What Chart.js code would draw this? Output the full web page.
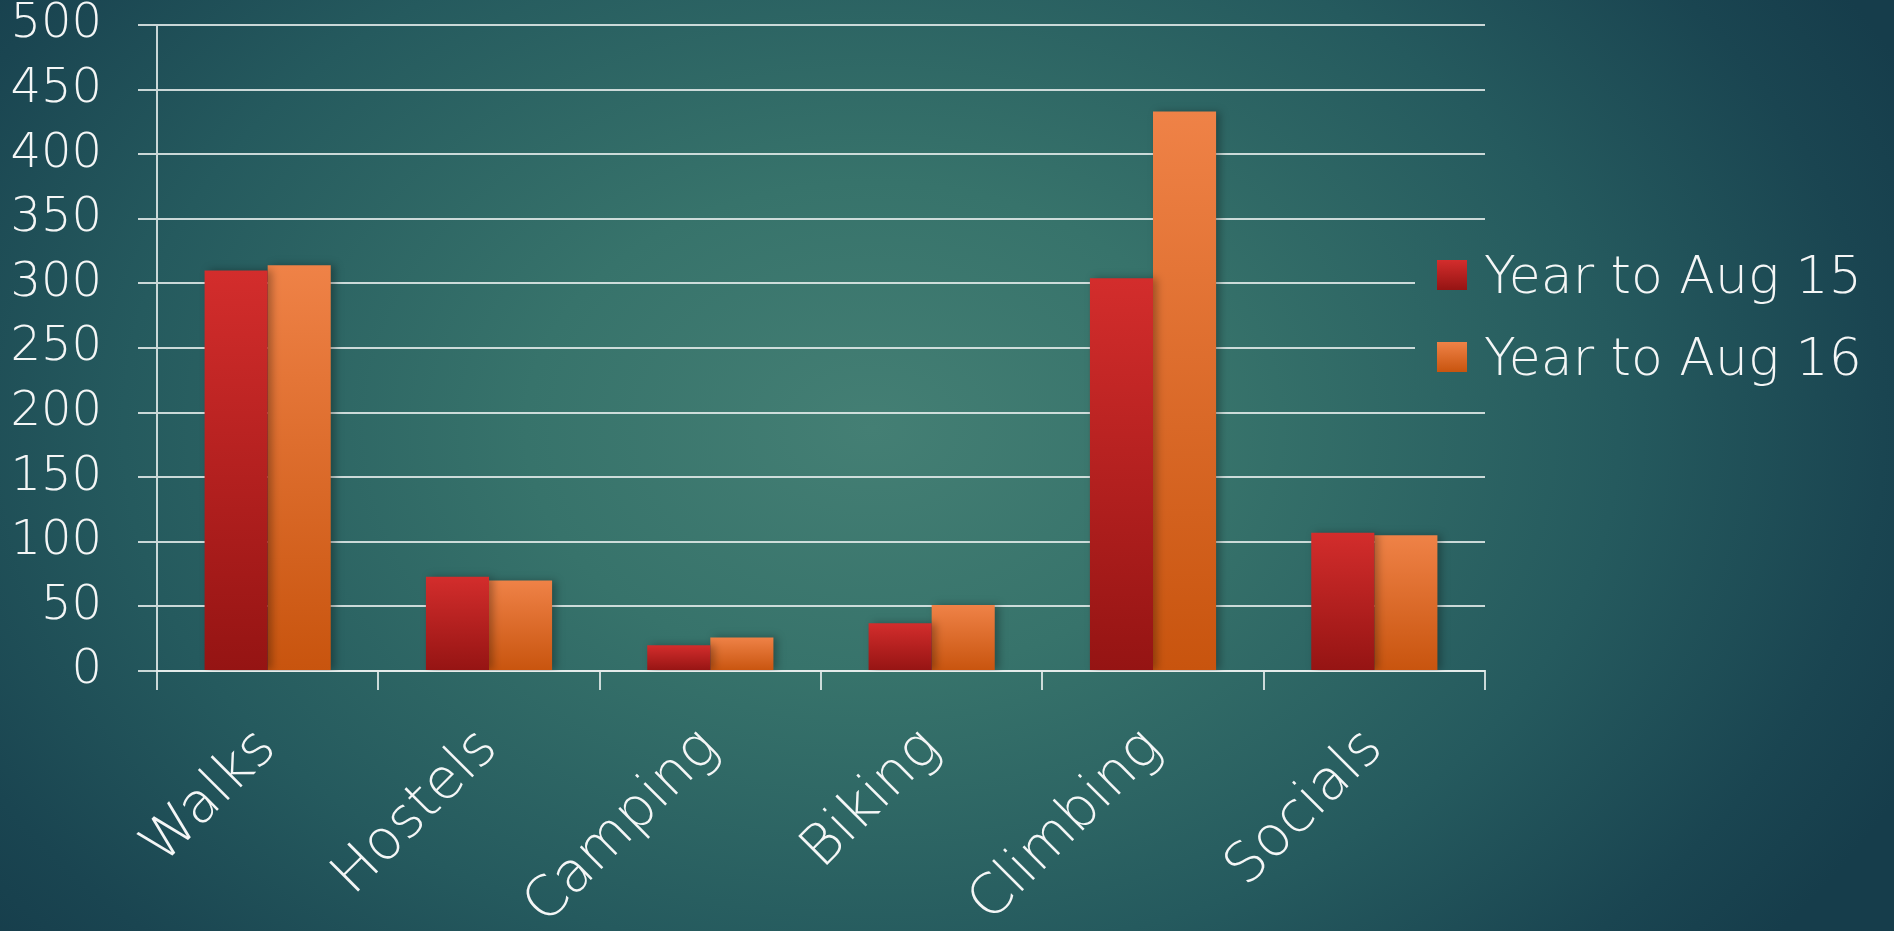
<!DOCTYPE html>
<html>

<head>
    <meta charset="utf-8">
    <script src="https://cdn.jsdelivr.net/npm/chart.js@4.4.1/dist/chart.umd.min.js"></script>
    <style>
        html, body {
            margin: 0;
            padding: 0;
            overflow: hidden;
        }

        body, #legend-container {
            background: radial-gradient(ellipse 1150px 820px at 46% 46%, #447f74 0%, #37736b 30%, #255a5e 65%, #1a4551 88%, #163d4b 100%) fixed;
        }

        #container {
            position: relative;
            width: 1894px;
            height: 931px;
        }

        #legend-container {
            position: absolute;
            left: 1415px;
            top: 234px;
            width: 479px;
            height: 164px;
            font-family: 'DejaVu Sans', sans-serif;
            font-weight: 200;
            font-size: 52px;
            color: #f4f6f6;
        }

        .legend-item {
            display: flex;
            align-items: center;
            height: 82px;
            padding-left: 22px;
        }

        .legend-color-box {
            width: 30px;
            height: 30px;
            margin-right: 17px;
        }
    </style>
</head>

<body>
    <div id="container">
        <canvas id="myBarChart"></canvas>
        <div id="legend-container">
            <!-- Legend items will be inserted here -->
        </div>
    </div>

    <script>
        const categories = ['Walks', 'Hostels', 'Camping', 'Biking', 'Climbing', 'Socials'];
        const seriesNames = ['Year to Aug 15', 'Year to Aug 16'];
        const yearToAug15 = [310, 73, 20, 37, 304, 107];
        const yearToAug16 = [314, 70, 26, 51, 433, 105];
        const yMin = 0, yMax = 500, yStep = 50;

        const topColors = ['#d32d2c', '#ef8247'];
        const bottomColors = ['#951413', '#c8540e'];
        const gridColor = 'rgba(232, 238, 237, 0.85)';

        // vertical gradient over each bar, from its top down to the zero line
        function barFill(i) {
            return function (c) {
                const chart = c.chart;
                if (!chart.chartArea || c.type !== 'data' || !chart.scales.y) return bottomColors[i];
                const y0 = chart.scales.y.getPixelForValue(c.parsed.y);
                const y1 = chart.scales.y.getPixelForValue(0);
                if (!isFinite(y0) || y1 - y0 < 1) return bottomColors[i];
                const g = chart.ctx.createLinearGradient(0, y0, 0, y1);
                g.addColorStop(0, topColors[i]);
                g.addColorStop(1, bottomColors[i]);
                return g;
            };
        }

        const barShadow = {
            id: 'barShadow',
            beforeDatasetsDraw(chart) {
                const c = chart.ctx;
                c.save();
                c.shadowColor = 'rgba(0, 0, 0, 0.3)';
                c.shadowBlur = 8;
                c.shadowOffsetX = 4;
            },
            afterDatasetsDraw(chart) {
                chart.ctx.restore();
            }
        };

        Chart.defaults.font.family = "'DejaVu Sans', sans-serif";
        Chart.defaults.font.weight = '200';
        Chart.defaults.color = '#f4f6f6';

        const ctx = document.getElementById('myBarChart').getContext('2d');

        const myBarChart = new Chart(ctx, {
            type: 'bar',
            data: {
                labels: categories,
                datasets: [
                    { label: seriesNames[0], data: yearToAug15, backgroundColor: barFill(0) },
                    { label: seriesNames[1], data: yearToAug16, backgroundColor: barFill(1) }
                ]
            },
            options: {
                responsive: true,
                maintainAspectRatio: false,
                animation: false,
                categoryPercentage: 0.57,
                barPercentage: 1.0,
                layout: {
                    padding: { top: 25, right: 409, bottom: 0, left: 0 }
                },
                plugins: {
                    legend: { display: false },
                    tooltip: { enabled: false }
                },
                scales: {
                    x: {
                        afterFit: function (scale) {
                            scale.height = 260;
                            scale.paddingLeft = 0;
                            scale.paddingRight = 0;
                        },
                        grid: {
                            offset: true,
                            drawOnChartArea: false,
                            drawTicks: true,
                            tickLength: 19,
                            color: gridColor,
                            lineWidth: 2
                        },
                        border: { color: gridColor, width: 2 },
                        ticks: {
                            autoSkip: false,
                            minRotation: 45,
                            maxRotation: 45,
                            padding: 26,
                            font: { size: 56, weight: '200' }
                        }
                    },
                    y: {
                        min: yMin,
                        max: yMax,
                        afterFit: function (scale) {
                            scale.width = 157;
                            scale.paddingTop = 0;
                            scale.paddingBottom = 0;
                        },
                        grid: {
                            color: gridColor,
                            lineWidth: 2,
                            drawTicks: true,
                            tickLength: 19
                        },
                        border: { color: gridColor, width: 2 },
                        ticks: {
                            stepSize: yStep,
                            padding: 36,
                            font: { size: 48, weight: '200', lineHeight: 1.0 }
                        }
                    }
                }
            },
            plugins: [barShadow]
        });

        function populateLegend() {
            const legendContainer = document.getElementById('legend-container');
            seriesNames.forEach((name, index) => {
                const legendItem = document.createElement('div');
                legendItem.className = 'legend-item';

                const colorBox = document.createElement('div');
                colorBox.className = 'legend-color-box';
                colorBox.style.background = 'linear-gradient(' + topColors[index] + ', ' + bottomColors[index] + ')';

                const labelText = document.createElement('span');
                labelText.innerText = name;

                legendItem.appendChild(colorBox);
                legendItem.appendChild(labelText);
                legendContainer.appendChild(legendItem);
            });
        }

        populateLegend();
    </script>
</body>

</html>
